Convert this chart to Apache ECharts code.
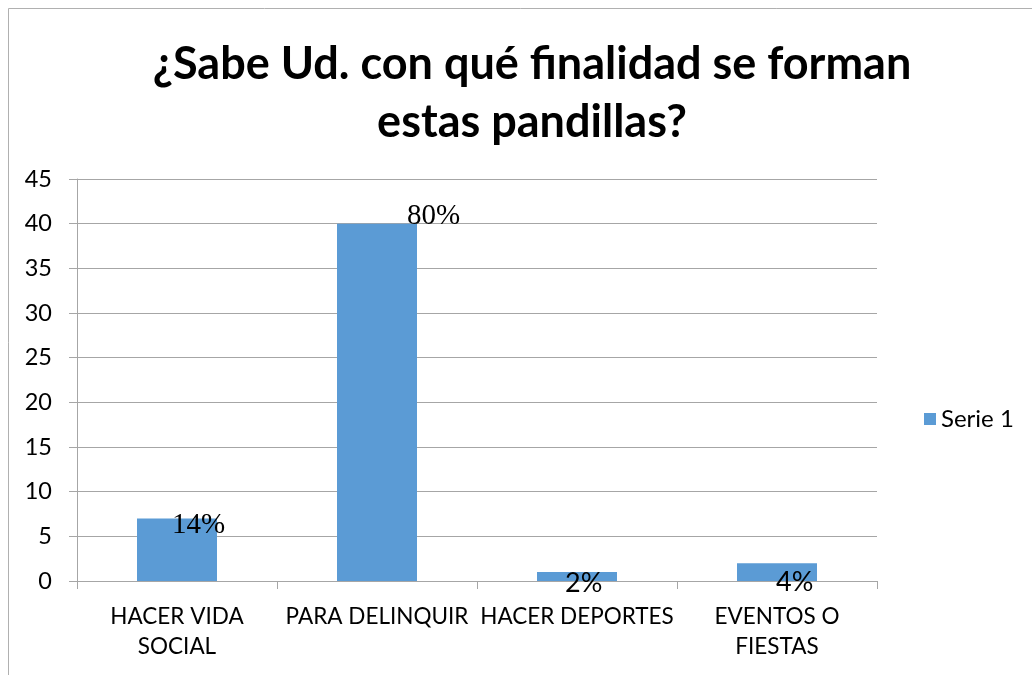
<!DOCTYPE html>
<html>
<head>
<meta charset="utf-8">
<script src="https://cdn.jsdelivr.net/npm/echarts@6/dist/echarts.min.js"></script>
<style>
html,body{margin:0;padding:0;background:#fff;}
#c{width:1032px;height:675px;}
</style>
</head>
<body>
<div id="c"></div>
<script>
var titleText = '¿Sabe Ud. con qué finalidad se forman\nestas pandillas?';
var categories = ['HACER VIDA\nSOCIAL', 'PARA DELINQUIR', 'HACER DEPORTES', 'EVENTOS O\nFIESTAS'];
var values = [7, 40, 1, 2];
var labelTexts = ['14%', '80%', '2%', '4%'];
var seriesName = 'Serie 1';

var SANS = "Lato, 'Liberation Sans', sans-serif";
var labelStyles = [
  {fontFamily: "'Liberation Serif', serif", fontSize: 29, position: [35, 7]},
  {fontFamily: "'Liberation Serif', serif", fontSize: 29, position: [70, -7]},
  {fontFamily: SANS, fontSize: 27, position: [28, 11]},
  {fontFamily: SANS, fontSize: 27, position: [39, 19]}
];

var chart = echarts.init(document.getElementById('c'), null, {renderer: 'canvas'});
chart.setOption({
  animation: false,
  backgroundColor: '#fff',
  graphic: [{
    type: 'rect', shape: {x: 8.5, y: 8.5, width: 1100, height: 800},
    style: {fill: 'none', stroke: '#b0b0b0', lineWidth: 1}, silent: true
  }],
  title: {
    text: titleText, left: 527, textAlign: 'center', top: 30,
    textStyle: {fontFamily: SANS, fontWeight: 'bold', fontSize: 45, lineHeight: 58, color: '#000'}
  },
  legend: {
    data: [seriesName], left: 919, top: 402, orient: 'vertical',
    itemWidth: 12, itemHeight: 12, itemGap: 10, icon: 'rect',
    textStyle: {fontFamily: SANS, fontSize: 24, color: '#000'}
  },
  grid: {left: 77, right: 155, top: 179, bottom: 94, containLabel: false},
  xAxis: {
    type: 'category', data: categories,
    axisLine: {lineStyle: {color: '#a6a6a6', width: 1}},
    axisTick: {show: true, length: 8, inside: false, alignWithLabel: false, lineStyle: {color: '#a6a6a6'}},
    axisLabel: {fontFamily: SANS, fontSize: 22.5, color: '#000', lineHeight: 30, margin: 21, interval: 0}
  },
  yAxis: {
    type: 'value', min: 0, max: 45, interval: 5,
    axisLine: {show: true, lineStyle: {color: '#a6a6a6', width: 1}},
    axisTick: {show: true, length: 8, lineStyle: {color: '#a6a6a6'}},
    splitLine: {show: true, lineStyle: {color: '#a6a6a6', width: 1}},
    axisLabel: {fontFamily: SANS, fontSize: 23.5, color: '#000', margin: 25}
  },
  series: [{
    name: seriesName, type: 'bar', barWidth: '40%',
    itemStyle: {color: '#5B9BD5'},
    data: values.map(function (v, i) {
      var s = labelStyles[i];
      return {
        value: v,
        label: {
          show: true, formatter: labelTexts[i], position: s.position,
          align: 'left', verticalAlign: 'middle',
          fontFamily: s.fontFamily, fontSize: s.fontSize, color: '#000'
        }
      };
    })
  }]
});
</script>
</body>
</html>
